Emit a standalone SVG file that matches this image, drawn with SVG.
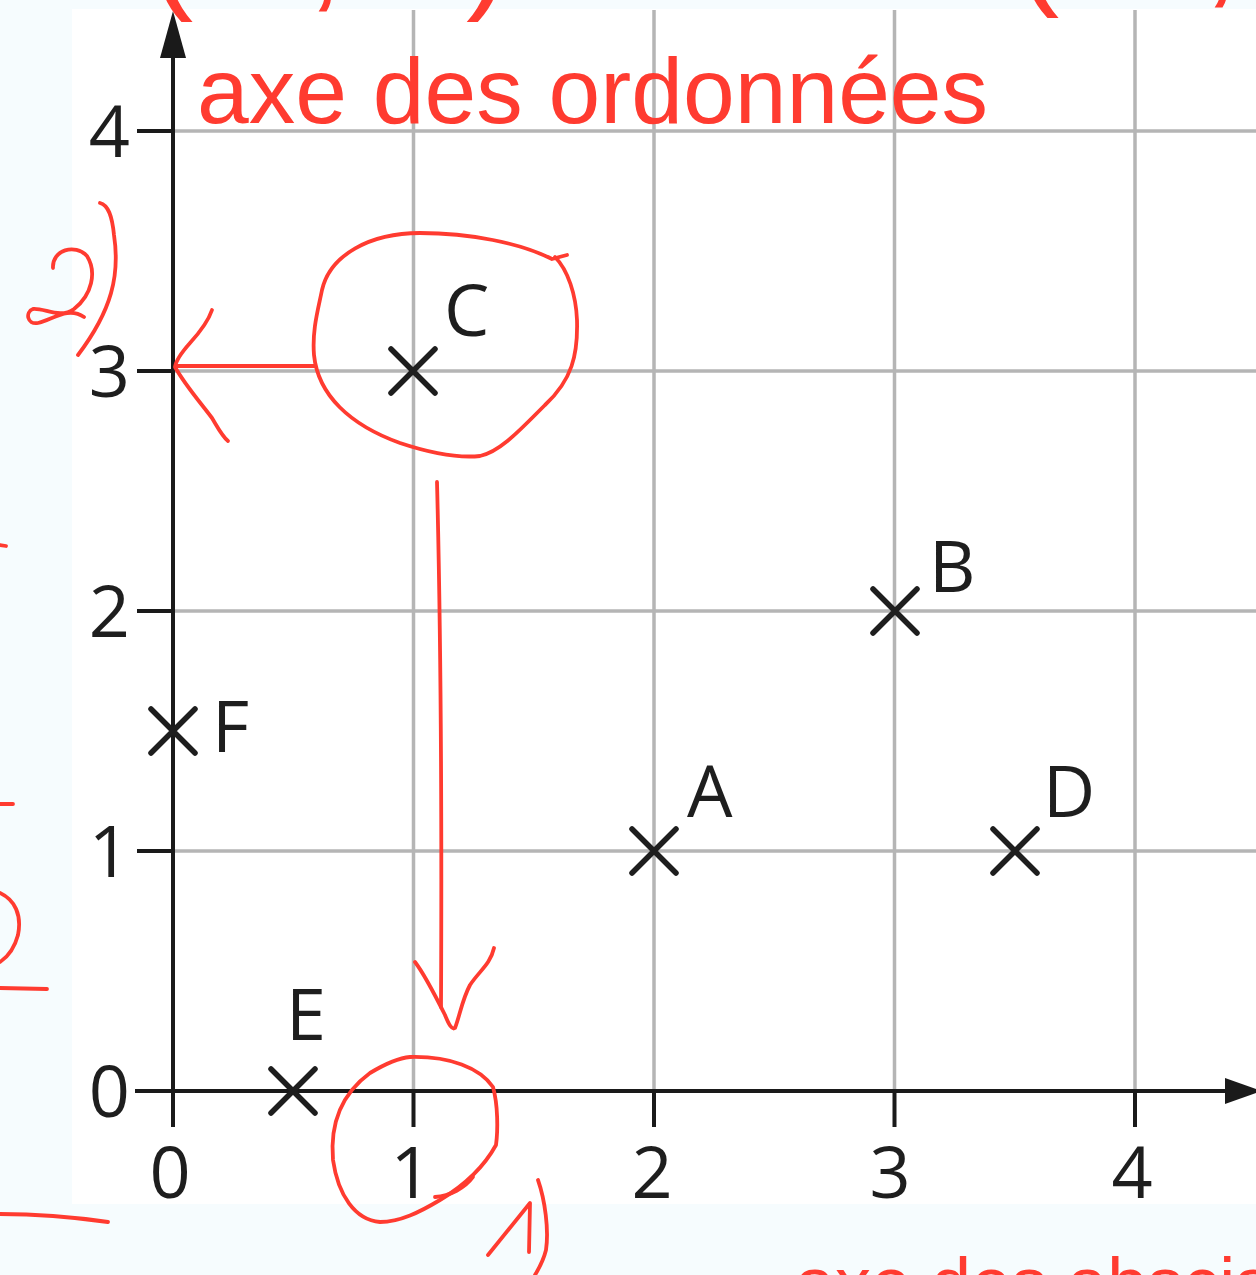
<svg xmlns="http://www.w3.org/2000/svg" width="1256" height="1275" viewBox="0 0 1256 1275">
<style>
.grid{stroke:#b5b5b5;stroke-width:3.5;fill:none}
.axis{stroke:#1a1a1a;stroke-width:4;fill:none}
.cross{stroke:#1e1e1e;stroke-width:5.5;stroke-linecap:round;fill:none}
.lbl{font-family:"Open Sans","Liberation Sans",sans-serif;font-size:72px;fill:#1e1e1e}
.red{stroke:#ff3b30;stroke-width:3.8;fill:none;stroke-linecap:round;stroke-linejoin:round}
.rtxt{font-family:"Liberation Sans",Arial,sans-serif;fill:#ff3b30}
</style>
<rect x="0" y="0" width="1256" height="1275" fill="#f6fcfe"/>
<rect x="72" y="9" width="1184" height="1195" fill="#ffffff"/>
<g id="grid">
<path class="grid" d="M413.5 10V1091M654 10V1091M894.5 10V1091M1135 10V1091"/>
<path class="grid" d="M173 131H1256M173 371H1256M173 611H1256M173 851H1256"/>
</g>
<g id="axes">
<path class="axis" d="M173 1127V50"/>
<path class="axis" d="M135 1091H1230"/>
<polygon points="173,11 186,58 160,58" fill="#1a1a1a"/>
<polygon points="1262,1091 1225,1078 1225,1104" fill="#1a1a1a"/>
<path class="axis" d="M137 131H173M137 371H173M137 611H173M137 851H173"/>
<path class="axis" d="M413.5 1091V1127M654 1091V1127M894.5 1091V1127M1135 1091V1127"/>
<g class="lbl" text-anchor="middle">
<text x="170" y="1198">0</text>
<text x="411" y="1198">1</text>
<text x="652" y="1198">2</text>
<text x="890" y="1198">3</text>
<text x="1132" y="1198">4</text>
</g>
<g class="lbl" text-anchor="end">
<text x="130" y="1117">0</text>
<text x="130" y="877">1</text>
<text x="130" y="637">2</text>
<text x="130" y="397">3</text>
<text x="130" y="157">4</text>
</g>
</g>
<g id="pointA"><path class="cross" d="M632 829L676 873M676 829L632 873"/><text class="lbl" x="687" y="817">A</text></g>
<g id="pointB"><path class="cross" d="M873 589L917 633M917 589L873 633"/><text class="lbl" x="929" y="592">B</text></g>
<g id="pointC"><path class="cross" d="M391 349L435 393M435 349L391 393"/><text class="lbl" x="444" y="336">C</text></g>
<g id="pointD"><path class="cross" d="M993 829L1037 873M1037 829L993 873"/><text class="lbl" x="1043" y="817">D</text></g>
<g id="pointE"><path class="cross" d="M271 1069L315 1113M315 1069L271 1113"/><text class="lbl" x="286" y="1040">E</text></g>
<g id="pointF"><path class="cross" d="M151 709L195 753M195 709L151 753"/><text class="lbl" x="212" y="752">F</text></g>
<g id="annotations">
<text class="rtxt" x="197" y="123" font-size="93">axe des ordonnées</text>
<text class="rtxt" y="-5" font-size="130"><tspan x="150">(</tspan><tspan x="189">1</tspan><tspan x="307">;</tspan><tspan x="380">3</tspan><tspan x="466">)</tspan></text>
<text class="rtxt" y="-9" font-size="130"><tspan x="1016">(</tspan><tspan x="1063">3</tspan><tspan x="1203">;</tspan></text>
<text class="rtxt" x="795" y="1308" font-size="72">axe des abscisses</text>
</g>
<g id="connectors">
<path class="red" d="M567 255L552 259C520 243 470 233 420 233C370 233 330 255 322 290C318 310 312 330 314 355C318 395 350 425 400 443C430 453 460 458 480 456C500 452 520 430 545 405C572 380 578 355 577 320C576 295 568 270 555 257"/>
<path class="red" d="M315 366L176 366"/>
<path class="red" d="M212 310C208 322 200 332 190 343C182 352 176 360 175 367C185 385 200 402 212 418C218 428 222 436 228 441"/>
<path class="red" d="M53 268C52 250 75 243 87 256C97 272 92 295 74 309C60 319 45 308 33 309C25 312 27 325 38 323C52 320 68 306 84 317"/>
<path class="red" d="M100 203C108 205 112 215 114 235C120 275 112 310 78 355"/>
<path class="red" d="M437 482C440 600 442 800 441 1007"/>
<path class="red" d="M415 962C425 975 435 995 445 1015C449 1025 452 1030 455 1028C460 1015 462 1000 470 985C480 970 490 965 494 948"/>
<path class="red" d="M410 1057C450 1056 480 1068 493 1087C498 1105 498 1130 496 1145C485 1165 465 1185 440 1200C420 1212 400 1222 380 1222C355 1220 338 1195 333 1160C330 1125 340 1095 370 1073C385 1064 398 1058 410 1057"/>
<path class="red" d="M435 1197C450 1196 465 1188 473 1177"/>
<path class="red" d="M488 1255C500 1240 518 1218 530 1203L529 1252"/>
<path class="red" d="M538 1180C545 1200 549 1230 546 1250C543 1262 538 1270 535 1275"/>
<path class="red" d="M0 545L6 546M0 804L13 804M0 988L47 989"/>
<path class="red" d="M0 893C15 900 22 915 18 935C14 950 6 958 0 962"/>
<path class="red" d="M0 1214C40 1214 80 1218 108 1222"/>
</g>
</svg>
